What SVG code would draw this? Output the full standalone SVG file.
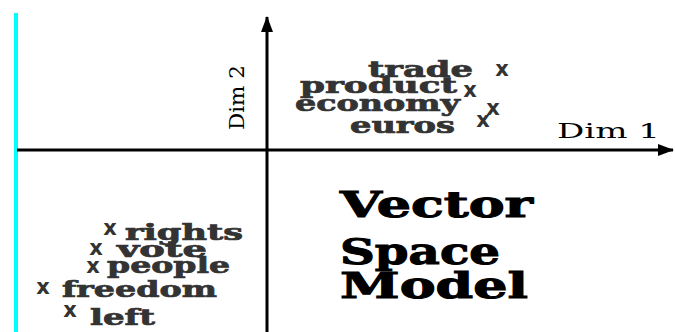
<svg xmlns="http://www.w3.org/2000/svg" width="675" height="332" viewBox="0 0 675 332">
<style>
.w{font-family:"DejaVu Serif","Liberation Serif",serif;font-weight:bold;fill:#333;stroke:#333;stroke-width:0.7;font-size:22px}
.m{font-family:"DejaVu Sans","Liberation Sans",sans-serif;font-weight:bold;fill:#333;font-size:21px;text-anchor:middle}
.t{font-family:"DejaVu Serif","Liberation Serif",serif;font-weight:bold;fill:#000;stroke:#000;stroke-width:1;font-size:35px}
.d{font-family:"DejaVu Serif","Liberation Serif",serif;fill:#000;font-size:20px}
.ax{stroke:#000;stroke-width:3;fill:none}
</style>
<defs>
<marker id="ah" viewBox="0 0 16 12" refX="15" refY="6" markerWidth="16" markerHeight="12" markerUnits="userSpaceOnUse" orient="auto">
<path d="M0,0 L16,6 L0,12 Z" fill="#000"/>
</marker>
</defs>
<rect x="14" y="13" width="4" height="319" fill="#00FFFF"/>
<g id="connectors">
<line class="ax" x1="17" y1="150" x2="673" y2="150" marker-end="url(#ah)"/>
<line class="ax" x1="267" y1="332" x2="267" y2="17" marker-end="url(#ah)"/>
</g>
<g id="axis-labels">
<text class="d" x="557" y="138" textLength="103" lengthAdjust="spacingAndGlyphs">Dim 1</text>
<text class="d" font-size="25" transform="translate(244,130) rotate(-90)" textLength="65" lengthAdjust="spacingAndGlyphs">Dim 2</text>
</g>
<g id="trade"><text class="w" x="368" y="77" textLength="105" lengthAdjust="spacingAndGlyphs">trade</text><text class="m" x="502" y="76">x</text></g>
<g id="product"><text class="w" x="300" y="93" textLength="157" lengthAdjust="spacingAndGlyphs">product</text><text class="m" x="470" y="97">x</text></g>
<g id="economy"><text class="w" x="295" y="111" textLength="165" lengthAdjust="spacingAndGlyphs">economy</text><text class="m" x="493" y="115">x</text></g>
<g id="euros"><text class="w" x="350" y="133" textLength="105" lengthAdjust="spacingAndGlyphs">euros</text><text class="m" x="483" y="127">x</text></g>
<g id="rights"><text class="w" x="125" y="240" textLength="118" lengthAdjust="spacingAndGlyphs">rights</text><text class="m" x="110" y="235">x</text></g>
<g id="vote"><text class="w" x="117" y="257" textLength="90" lengthAdjust="spacingAndGlyphs">vote</text><text class="m" x="96" y="255">x</text></g>
<g id="people"><text class="w" x="107" y="273" textLength="123" lengthAdjust="spacingAndGlyphs">people</text><text class="m" x="93" y="273">x</text></g>
<g id="freedom"><text class="w" x="62" y="297" textLength="155" lengthAdjust="spacingAndGlyphs">freedom</text><text class="m" x="43" y="294">x</text></g>
<g id="left"><text class="w" x="90" y="325" textLength="65" lengthAdjust="spacingAndGlyphs">left</text><text class="m" x="70" y="317">x</text></g>
<g id="title">
<text class="t" x="340" y="217" textLength="193" lengthAdjust="spacingAndGlyphs">Vector</text>
<text class="t" x="340" y="264" textLength="160" lengthAdjust="spacingAndGlyphs">Space</text>
<text class="t" x="340" y="298" textLength="188" lengthAdjust="spacingAndGlyphs">Model</text>
</g>
</svg>
